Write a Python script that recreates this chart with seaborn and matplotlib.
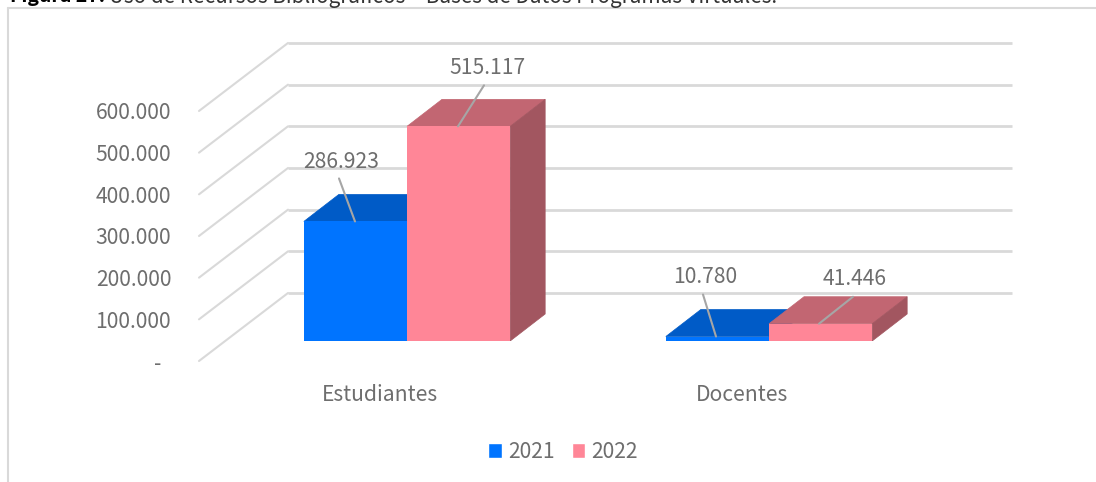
import numpy as np
import pandas as pd
import matplotlib
matplotlib.use("Agg")
import matplotlib.pyplot as plt
from matplotlib.patches import Polygon, Rectangle
from matplotlib.ticker import FuncFormatter
import seaborn as sns

# data
grupos = ["Estudiantes", "Docentes"]
valores_2021 = [286923, 10780]
valores_2022 = [515117, 41446]
anios = ["2021", "2022"]
ticks_y = [0, 100000, 200000, 300000, 400000, 500000, 600000]

titulo_bold = "Figura 27."
titulo_resto = "Uso de Recursos Bibliográficos – Bases de Datos Programas Virtuales."

AZUL, AZUL_TOP = "#0074FF", "#005BC7"
ROSA, ROSA_TOP, ROSA_SIDE = "#FF8697", "#C26672", "#A25660"
GRIS_TXT = "#6E6E6E"
GRIS_LIN = "#D9D9D9"
FUENTE = "Noto Sans CJK JP"
TAM = 15.2

W, H = 1096, 482
PX_POR_UNIDAD = 41.67 / 100000  # vertical scale of the value axis


def fy(px):
    return 1 - px / H


def fmt_miles(v, pos=None):
    if v == 0:
        return "-  "
    return f"{int(v):,}".replace(",", ".")


sns.set_theme(style="white")
plt.rcParams["font.family"] = [FUENTE, "DejaVu Sans"]

fig = plt.figure(figsize=(W / 100, H / 100), dpi=100)

# -----------------------------------------
#  back wall with value axis (0 sits at y=361 on the front edge)
# -----------------------------------------
izq, der, arr, aba = 199, 1012, 30, 361
ax_muro = fig.add_axes([izq / W, fy(aba), (der - izq) / W, (aba - arr) / H])
ax_muro.set_xlim(izq, der)
ax_muro.set_ylim(0, (aba - arr) / PX_POR_UNIDAD)
ax_muro.patch.set_visible(False)
sns.despine(ax=ax_muro, left=True, bottom=True)
ax_muro.set_xticks([])
ax_muro.set_yticks(ticks_y)
ax_muro.yaxis.set_major_formatter(FuncFormatter(fmt_miles))
ax_muro.tick_params(axis="y", length=0, pad=20, labelsize=TAM, labelcolor=GRIS_TXT)

alto = 68 / PX_POR_UNIDAD
for v in ticks_y:
    ax_muro.plot([izq, 288], [v, v + alto], color=GRIS_LIN, lw=1.5, clip_on=False, zorder=1)
    ax_muro.plot([288, der], [v + alto, v + alto], color=GRIS_LIN, lw=2, clip_on=False, zorder=1,
                 solid_capstyle="butt")

# -----------------------------------------
#  bars (0 sits at y=341)
# -----------------------------------------
base = 341
ax = fig.add_axes([izq / W, fy(base), (der - izq) / W, (base - arr) / H])
ax.patch.set_visible(False)

df = pd.DataFrame({
    "grupo": grupos * 2,
    "anio": [anios[0]] * 2 + [anios[1]] * 2,
    "valor": valores_2021 + valores_2022,
})
sns.barplot(data=df, x="grupo", y="valor", hue="anio", order=grupos, hue_order=anios,
            palette=[AZUL, ROSA], width=0.57, gap=0, saturation=1, ax=ax, legend=False)

px_cat = 362.0
ax.set_xlim((izq - 407) / px_cat, (der - 407) / px_cat)
ax.set_ylim(0, (base - arr) / PX_POR_UNIDAD)
ax.set_xlabel("")
ax.set_ylabel("")
ax.set_yticks([])
ax.set_xticks(np.arange(len(grupos)) - 27 / px_cat, grupos)
sns.despine(ax=ax, left=True, bottom=True)
ax.tick_params(axis="x", length=0, pad=31, labelsize=TAM, labelcolor=GRIS_TXT)

# depth faces of each bar
dx = 35 / px_cat
dy = 27 / PX_POR_UNIDAD
caras = [(AZUL_TOP, AZUL_TOP), (ROSA_TOP, ROSA_SIDE)]
for i, cont in enumerate(ax.containers):
    top_c, side_c = caras[i]
    for bar in cont:
        x0, w, h = bar.get_x(), bar.get_width(), bar.get_height()
        x1 = x0 + w
        bar.set_zorder(3 + 2 * i)
        bar.set_linewidth(0)
        # thin edge in the face colour so no seam shows between faces
        ax.add_patch(Polygon([(x0, h), (x1, h), (x1 + dx, h + dy), (x0 + dx, h + dy)],
                             closed=True, fc=top_c, ec=top_c, lw=0.5, zorder=2 + 2 * i))
        ax.add_patch(Polygon([(x1, 0), (x1, h), (x1 + dx, h + dy), (x1 + dx, dy)],
                             closed=True, fc=side_c, ec=side_c, lw=0.5, zorder=2 + 2 * i))

# data labels with leader lines, offsets from bar top in pixels
anclas_x = [[355, 716], [458, 819]]
linea_fin = [[(-16, 43), (-13, 42)], [(26, 41), (34, 27)]]
texto_off = [[(-14, 59), (-11, 60)], [(29, 58), (36, 45)]]
for i, cont in enumerate(ax.containers):
    for j, bar in enumerate(cont):
        xa = (anclas_x[i][j] - 407) / px_cat
        h = bar.get_height()
        ax.annotate("", xy=(xa, h), xytext=linea_fin[i][j], textcoords="offset pixels",
                    arrowprops=dict(arrowstyle="-", color="#A6A6A6", lw=1.5, shrinkA=0, shrinkB=0),
                    zorder=10)
        ax.annotate(fmt_miles(h), xy=(xa, h), xytext=texto_off[i][j], textcoords="offset pixels",
                    ha="center", va="center", fontsize=TAM, color=GRIS_TXT, zorder=11)

# -----------------------------------------
#  legend
# -----------------------------------------
handles = [Rectangle((0, 0), 1, 1, fc=AZUL), Rectangle((0, 0), 1, 1, fc=ROSA)]
fig.legend(handles, anios, loc="center", bbox_to_anchor=(563 / W, fy(452)), ncol=2, frameon=False,
           fontsize=TAM, labelcolor=GRIS_TXT, handlelength=0.66, handleheight=0.66,
           handletextpad=0.27, columnspacing=0.8, borderpad=0, borderaxespad=0)

# -----------------------------------------
#  frame and cut off caption
# -----------------------------------------
fig.add_artist(plt.Line2D([8 / W, 8 / W], [0, fy(8)], color=GRIS_LIN, lw=1.5))
fig.add_artist(plt.Line2D([8 / W, 1], [fy(8), fy(8)], color=GRIS_LIN, lw=1.5))
t1 = fig.text(10 / W, fy(2.5), titulo_bold, fontsize=14, color="black", fontweight="bold", va="baseline")
fig.canvas.draw()
bb = t1.get_window_extent()
fig.text((bb.x1 + 4) / W, fy(2.5), titulo_resto, fontsize=14.95, color="#333333", va="baseline")

fig.savefig("out.png", dpi=100)
